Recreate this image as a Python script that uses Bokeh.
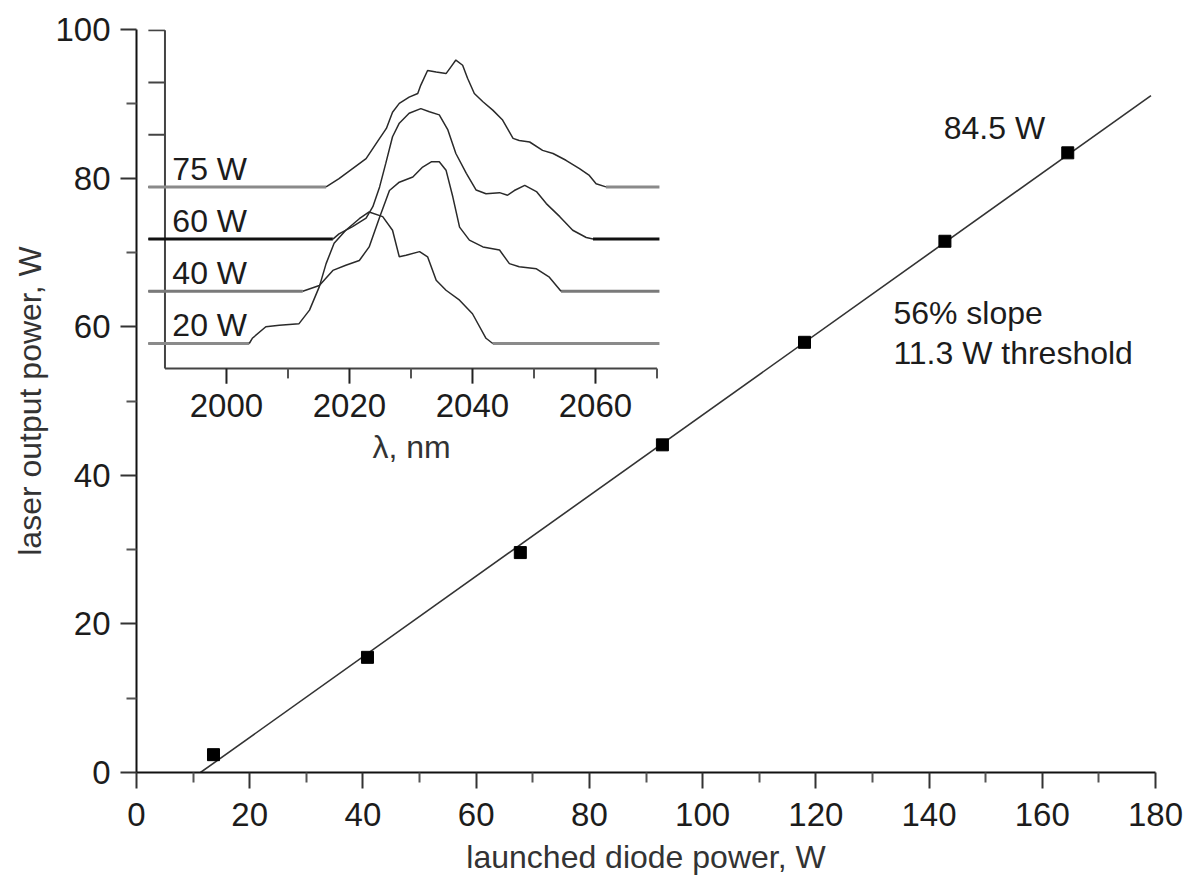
from bokeh.plotting import figure
from bokeh.models import Range1d, FixedTicker, Label
from bokeh.embed import file_html
from bokeh.resources import INLINE
from bokeh.core.properties import value

# ---------------- main data ----------------
diode_power = [13.6, 40.8, 67.8, 92.9, 118.0, 142.8, 164.5]
output_power = [2.4, 15.5, 29.6, 44.1, 57.9, 71.5, 83.4]
fit_x = [11.3, 179.2]
fit_y = [0.0, 91.1]

x_ticks = [0, 20, 40, 60, 80, 100, 120, 140, 160, 180]
x_minor = [10, 30, 50, 70, 90, 110, 130, 150, 170]
y_ticks = [0, 20, 40, 60, 80, 100]
y_minor = [10, 30, 50, 70, 90]

# ---------------- inset data (spectra, height above own baseline) ----------------
spec_labels = ["20 W", "40 W", "60 W", "75 W"]
spec_offsets = [0, 1, 2, 3]

lam_20 = [2003.7, 2004.2, 2006.4, 2008.6, 2011.8, 2013.5, 2015.1, 2016.2, 2017.5, 2019.4,
          2021.6, 2023.2, 2025.4, 2027.0, 2028.1, 2029.2, 2031.4, 2032.7, 2034.1, 2035.7,
          2037.9, 2040.0, 2042.2, 2043.3]
int_20 = [0.0, 0.10, 0.32, 0.35, 0.38, 0.64, 1.09, 1.53, 1.92, 2.17,
          2.39, 2.52, 2.43, 2.17, 1.66, 1.69, 1.76, 1.66, 1.21, 1.02,
          0.83, 0.57, 0.10, 0.0]

lam_40 = [2012.4, 2015.1, 2017.3, 2019.4, 2021.6, 2023.2, 2024.9, 2026.5, 2028.1, 2030.3,
          2031.9, 2033.3, 2034.6, 2035.7, 2036.8, 2037.9, 2039.5, 2041.7, 2044.4, 2046.0,
          2047.6, 2050.4, 2052.5, 2054.4]
int_40 = [0.0, 0.11, 0.40, 0.50, 0.59, 0.85, 1.42, 1.93, 2.09, 2.19,
          2.38, 2.48, 2.48, 2.32, 1.81, 1.23, 0.98, 0.85, 0.79, 0.53,
          0.47, 0.43, 0.27, 0.0]

lam_60 = [2017.3, 2018.3, 2020.5, 2022.7, 2023.8, 2024.9, 2025.9, 2027.0, 2028.1, 2029.7,
          2031.6, 2033.0, 2034.6, 2036.0, 2037.3, 2039.0, 2040.6, 2042.2, 2044.4, 2045.7,
          2046.8, 2048.5, 2050.4, 2052.0, 2054.2, 2056.3, 2058.5, 2059.6]
int_60 = [0.0, 0.10, 0.24, 0.40, 0.62, 1.00, 1.45, 1.96, 2.22, 2.41,
          2.50, 2.44, 2.38, 2.09, 1.64, 1.26, 0.94, 0.87, 0.89, 0.84,
          0.93, 1.03, 0.91, 0.68, 0.43, 0.17, 0.03, 0.0]

lam_75 = [2016.2, 2018.3, 2020.5, 2022.7, 2024.9, 2026.0, 2027.0, 2028.1, 2029.7, 2031.1,
          2031.6, 2032.7, 2034.1, 2035.7, 2036.5, 2037.3, 2038.4, 2039.2, 2040.3, 2041.7,
          2043.3, 2044.9, 2046.6, 2047.6, 2049.3, 2051.4, 2053.1, 2055.2, 2057.4, 2059.0,
          2060.1, 2061.7]
int_75 = [0.0, 0.16, 0.35, 0.54, 0.93, 1.12, 1.43, 1.60, 1.72, 1.79,
          1.95, 2.23, 2.20, 2.17, 2.30, 2.43, 2.33, 2.08, 1.79, 1.63,
          1.47, 1.28, 0.93, 0.89, 0.86, 0.70, 0.64, 0.51, 0.35, 0.22,
          0.06, 0.0]

inset_ticks = [2000, 2020, 2040, 2060]
inset_minor = [2010, 2030, 2050, 2070]
inset_yticks = [0, 1, 2, 3, 4, 5, 6]

FONT = "Liberation Sans"
TXT = "#1c1c1c"

p = figure(frame_width=1019, frame_height=743,
           x_range=Range1d(0, 180), y_range=Range1d(0, 100),
           output_backend="svg", toolbar_location=None,
           min_border_left=136, min_border_right=35,
           min_border_top=29, min_border_bottom=111)
p.outline_line_color = None
p.xgrid.grid_line_color = None
p.ygrid.grid_line_color = None
p.background_fill_color = "white"
p.border_fill_color = "white"

p.xaxis.ticker = FixedTicker(ticks=x_ticks, minor_ticks=x_minor)
p.yaxis.ticker = FixedTicker(ticks=y_ticks, minor_ticks=y_minor)
for ax in (p.xaxis, p.yaxis):
    ax.axis_line_width = 2
    ax.axis_line_color = "#111111"
    ax.major_tick_in = 0
    ax.major_tick_out = 16
    ax.minor_tick_in = 0
    ax.minor_tick_out = 10
    ax.major_tick_line_width = 2
    ax.minor_tick_line_width = 2
    ax.major_tick_line_color = "#333333"
    ax.minor_tick_line_color = "#555555"
    ax.major_label_text_font = FONT
    ax.major_label_text_font_size = "33px"
    ax.major_label_text_color = TXT
    ax.axis_label_text_font = FONT
    ax.axis_label_text_font_size = "32px"
    ax.axis_label_text_font_style = "normal"
    ax.axis_label_text_color = "#333333"
p.xaxis.axis_label = "launched diode power, W"
p.yaxis.axis_label = "laser output power, W"
p.xaxis.major_label_standoff = 14
p.yaxis.major_label_standoff = 10
p.xaxis.axis_label_standoff = 10
p.yaxis.axis_label_standoff = 4

# main fit line and data
p.line(fit_x, fit_y, line_color="#333333", line_width=1.6)
p.scatter(diode_power, output_power, marker="square", size=12,
          fill_color="#000000", line_color="#000000")

p.add_layout(Label(x=142.6, y=86.8, text="84.5 W", text_font=FONT, text_font_size="32px",
                   text_color=TXT, text_baseline="middle", text_align="left"))
p.add_layout(Label(x=133.7, y=61.8, text="56% slope", text_font=FONT, text_font_size="32px",
                   text_color=TXT, text_baseline="middle", text_align="left"))
p.add_layout(Label(x=133.7, y=56.4, text="11.3 W threshold", text_font=FONT, text_font_size="32px",
                   text_color=TXT, text_baseline="middle", text_align="left"))

# ---------------- inset drawn in extra ranges ----------------
p.extra_x_ranges = {"lam": Range1d(1985.37, 2151.06)}
p.extra_y_ranges = {"off": Range1d(-8.218, 6.015)}
R = dict(x_range_name="lam", y_range_name="off")

ix0, ix1 = 1990.0, 2070.0      # inset axis extent
iy_axis = -0.479               # inset x-axis height
line_left, line_right = 1987.3, 2070.4

# axes
p.segment(x0=[ix0], y0=[iy_axis], x1=[ix1], y1=[iy_axis], line_color="#444444", line_width=2, **R)
p.segment(x0=[ix0], y0=[iy_axis], x1=[ix0], y1=[6.0], line_color="#444444", line_width=2, **R)
p.segment(x0=inset_ticks, y0=[iy_axis] * len(inset_ticks), x1=inset_ticks,
          y1=[iy_axis - 0.29] * len(inset_ticks), line_color="#222222", line_width=2, **R)
p.segment(x0=inset_minor, y0=[iy_axis] * len(inset_minor), x1=inset_minor,
          y1=[iy_axis - 0.19] * len(inset_minor), line_color="#555555", line_width=2, **R)
p.segment(x0=[ix0] * len(inset_yticks), y0=inset_yticks, x1=[ix0 - 2.7] * len(inset_yticks),
          y1=inset_yticks, line_color="#444444", line_width=2, **R)
p.text(x=inset_ticks, y=[-1.19] * len(inset_ticks), text=[str(t) for t in inset_ticks],
       text_font=value(FONT), text_font_size=value("33px"), text_color=TXT,
       text_align="center", text_baseline="middle", **R)
p.text(x=[2030.1], y=[-1.99], text=["\u03bb, nm"], text_font=value(FONT),
       text_font_size=value("32px"), text_color="#333333",
       text_align="center", text_baseline="middle", **R)

spectra = [(lam_20, int_20), (lam_40, int_40), (lam_60, int_60), (lam_75, int_75)]
base_colors = ["#8a8a8a", "#7a7a7a", "#111111", "#8a8a8a"]
for (lam, inten), off, lab, bc in zip(spectra, spec_offsets, spec_labels, base_colors):
    yy = [v + off for v in inten]
    p.segment(x0=[line_left, lam[-1]], y0=[off, off], x1=[lam[0], line_right], y1=[off, off],
              line_color=bc, line_width=3, **R)
    p.line(lam, yy, line_color="#2a2a2a", line_width=1.5, **R)
    p.text(x=[1991.2], y=[off + 0.35], text=[lab], text_font=value(FONT),
           text_font_size=value("32px"), text_color=TXT,
           text_align="left", text_baseline="middle", **R)

open("out.html", "w").write(file_html(p, INLINE))
